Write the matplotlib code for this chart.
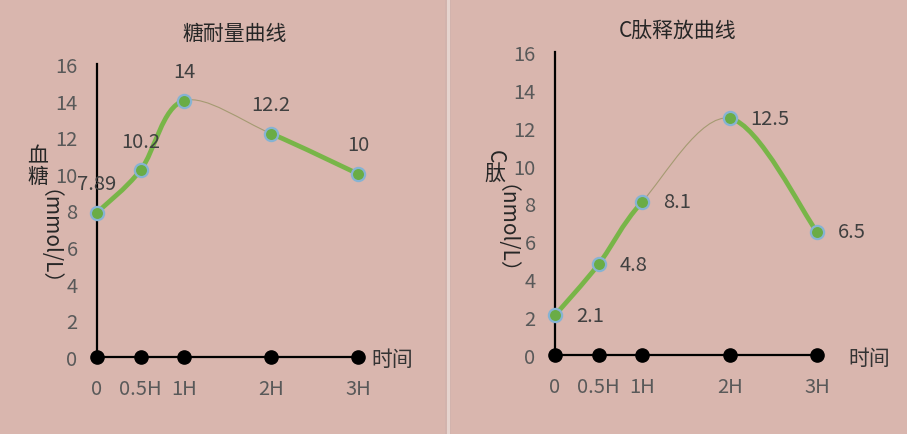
import numpy as np
import matplotlib
matplotlib.use('Agg')
import matplotlib.pyplot as plt
from matplotlib.path import Path
from matplotlib.patches import PathPatch, Rectangle

plt.rcParams['font.family'] = ['Noto Sans CJK SC', 'DejaVu Sans']

# ----- data -----
hours      = [0, 0.5, 1, 2, 3]
xlabels    = ['0', '0.5H', '1H', '2H', '3H']
glucose    = [7.89, 10.2, 14, 12.2, 10]
glu_labels = ['7.89', '10.2', '14', '12.2', '10']
cpep       = [2.1, 4.8, 8.1, 12.5, 6.5]
cp_labels  = ['2.1', '4.8', '8.1', '12.5', '6.5']
yticks     = np.arange(0, 17, 2)

BG      = '#d9b6ae'
GREEN   = '#78b548'
THIN    = '#a59a72'
EDGE    = '#86b3d3'
W, H    = 907, 435
FS      = 14.5

def px(x, y):
    # pixel (from top-left) -> figure fraction
    return x / W, 1 - y / H

def bezier_segments(xs, ys):
    # Excel-like smoothed line: Catmull-Rom as cubic Bezier pieces
    p = np.column_stack([xs, ys]).astype(float)
    n = len(p)
    segs = []
    for i in range(n - 1):
        p0 = p[max(i - 1, 0)]
        p1 = p[i]
        p2 = p[i + 1]
        p3 = p[min(i + 2, n - 1)]
        c1 = p1 + (p2 - p0) / 6
        c2 = p2 - (p3 - p1) / 6
        segs.append([p1, c1, c2, p2])
    return segs

def draw_panel(ax, yvals, labels, label_side):
    ax.set_facecolor('none')
    ax.set_xlim(0, 3)
    ax.set_ylim(0, 16)
    for s in ['top', 'right']:
        ax.spines[s].set_visible(False)
    for s in ['left', 'bottom']:
        ax.spines[s].set_linewidth(1.6)
        ax.spines[s].set_color('black')
    ax.set_yticks(yticks)
    ax.set_xticks(hours)
    ax.set_xticklabels(xlabels)
    ax.tick_params(axis='y', length=0, pad=14, labelsize=FS, labelcolor='#595959')
    ax.tick_params(axis='x', length=0, pad=15, labelsize=FS, labelcolor='#595959')

    segs = bezier_segments(hours, yvals)
    for i, sg in enumerate(segs):
        path = Path(sg, [Path.MOVETO, Path.CURVE4, Path.CURVE4, Path.CURVE4])
        if i == 2:
            patch = PathPatch(path, fill=False, edgecolor=THIN, lw=0.8, clip_on=False, zorder=3)
        else:
            patch = PathPatch(path, fill=False, edgecolor=GREEN, lw=3.4, clip_on=False,
                              capstyle='round', zorder=3)
        ax.add_patch(patch)

    ax.plot(hours, [0] * len(hours), 'o', color='black', ms=9.5, clip_on=False, zorder=4)
    ax.plot(hours, yvals, 'o', mfc='#6aac46', mec=EDGE, mew=1.6, ms=9.5,
            clip_on=False, zorder=5, ls='none')

    for x, y, t in zip(hours, yvals, labels):
        if label_side == 'top':
            ax.annotate(t, (x, y), xytext=(0, 21), textcoords='offset points',
                        ha='center', va='center', fontsize=FS, color='#404040')
        else:
            ax.annotate(t, (x, y), xytext=(15, 0), textcoords='offset points',
                        ha='left', va='center', fontsize=FS, color='#404040')

fig = plt.figure(figsize=(W / 100, H / 100), dpi=100, facecolor=BG)

ax1 = fig.add_axes([97 / W, (H - 358) / H, 261 / W, 293 / H])
draw_panel(ax1, glucose, glu_labels, 'top')
ax2 = fig.add_axes([555 / W, (H - 356) / H, 262 / W, 303 / H])
draw_panel(ax2, cpep, cp_labels, 'right')

# titles
fig.text(*px(235, 34), '糖耐量曲线', ha='center', va='center', fontsize=15, color='#262626')
fig.text(*px(678, 32), 'C肽释放曲线', ha='center', va='center', fontsize=15, color='#262626')

# vertical y labels
fig.text(*px(38, 156), '血', ha='center', va='center', fontsize=15, color='#262626')
fig.text(*px(38, 177), '糖', ha='center', va='center', fontsize=15, color='#262626')
fig.text(*px(38, 248), '（mmol/L）', ha='center', va='center', rotation=-90,
         fontsize=15, color='#262626')
fig.text(*px(495, 157), 'C', ha='center', va='center', rotation=-90, fontsize=15, color='#262626')
fig.text(*px(495, 174), '肽', ha='center', va='center', fontsize=15, color='#262626')
fig.text(*px(495, 240), '（nmol/L）', ha='center', va='center', rotation=-90,
         fontsize=15, color='#262626')

# x axis names
fig.text(*px(371, 360), '时间', ha='left', va='center', fontsize=15, color='#333333')
fig.text(*px(848, 359), '时间', ha='left', va='center', fontsize=15, color='#333333')

# panel separator
fig.add_artist(Rectangle(px(445, 435), 6 / W, 1, transform=fig.transFigure,
                         facecolor='#d2b3ad', edgecolor='none'))
fig.add_artist(Rectangle(px(446.5, 435), 3.5 / W, 1, transform=fig.transFigure,
                         facecolor='#e6d4cf', edgecolor='none'))

plt.savefig('out.png', dpi=100, facecolor=BG)
